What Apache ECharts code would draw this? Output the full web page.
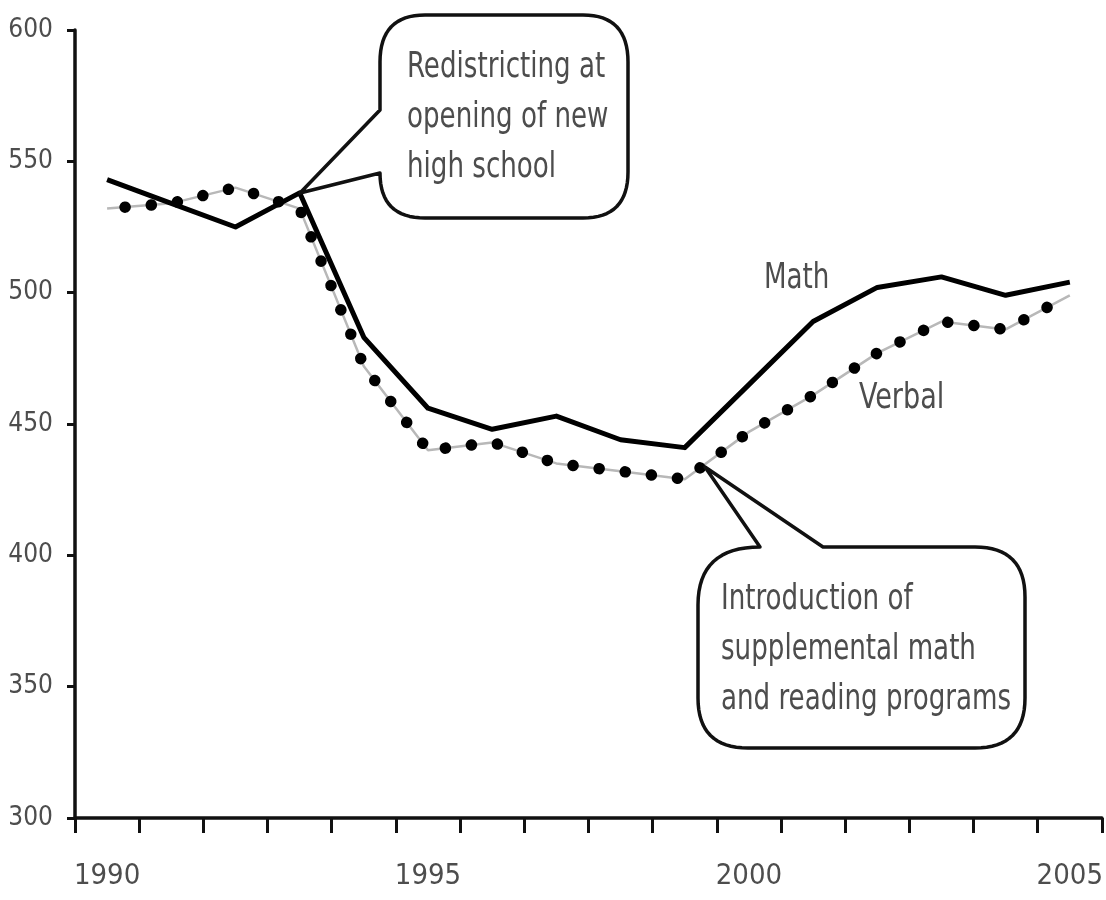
<!DOCTYPE html>
<html>
<head>
<meta charset="utf-8">
<script src="https://cdn.jsdelivr.net/npm/echarts@6/dist/echarts.min.js"></script>
<style>
html,body{margin:0;padding:0;background:#fff;}
#chart{width:1106px;height:900px;}
</style>
</head>
<body>
<div id="chart"></div>
<script>
const years = ['1990','1991','1992','1993','1994','1995','1996','1997','1998','1999','2000','2001','2002','2003','2004','2005'];
const mathScores = [543, 534, 525, 538, 483, 456, 448, 453, 444, 441, 465, 489, 502, 506, 499, 504];
const verbalScores = [532, 534, 540, 532, 472, 440, 443, 435, 432, 429, 447, 461, 477, 489, 486, 499];
const yTicks = [300, 350, 400, 450, 500, 550, 600];
const labelYears = ['1990','1995','2000','2005'];

const FONT = "'DejaVu Sans Condensed','Liberation Sans Narrow','DejaVu Sans',sans-serif";
const TXT = '#4d4d4d';
const SQUEEZE = 0.83;

// Build polygon points from a list of segments: ['L',x,y] or ['Q',cx,cy,x,y]
function calloutPoints(start, segs) {
  const pts = [start.slice()];
  let cur = start.slice();
  segs.forEach(function (s) {
    if (s[0] === 'L') { cur = [s[1], s[2]]; pts.push(cur); }
    else {
      const cx = s[1], cy = s[2], x = s[3], y = s[4];
      for (let i = 1; i <= 16; i++) {
        const t = i / 16, u = 1 - t;
        pts.push([u*u*cur[0] + 2*u*t*cx + t*t*x, u*u*cur[1] + 2*u*t*cy + t*t*y]);
      }
      cur = [x, y];
    }
  });
  return pts;
}

const callout1 = calloutPoints([425, 15], [
  ['L', 583, 15], ['Q', 628, 15, 628, 62], ['L', 628, 172], ['Q', 628, 218, 583, 218],
  ['L', 425, 218], ['Q', 380, 218, 380, 173], ['L', 300, 193], ['L', 380, 110],
  ['L', 380, 62], ['Q', 380, 15, 425, 15]
]);
const callout2 = calloutPoints([823, 547], [
  ['L', 975, 547], ['Q', 1025, 547, 1025, 597], ['L', 1025, 698], ['Q', 1025, 748, 975, 748],
  ['L', 748, 748], ['Q', 698, 748, 698, 698], ['L', 698, 605], ['Q', 698, 547, 760, 547],
  ['L', 705, 467]
]);

const chart = echarts.init(document.getElementById('chart'), null, {renderer:'canvas'});

const option = {
  animation: false,
  backgroundColor: '#fff',
  grid: { left: 75, right: 4, top: 30, bottom: 82, containLabel: false },
  xAxis: {
    type: 'category',
    data: years,
    boundaryGap: true,
    axisLine: { show: true, lineStyle: { color: '#111', width: 3.5 } },
    axisTick: { show: true, interval: 0, length: 15, lineStyle: { color: '#111', width: 3 } },
    axisLabel: {
      interval: function (idx, val) { return labelYears.indexOf(val) >= 0; },
      margin: 44, color: TXT, fontFamily: FONT, fontSize: 29
    },
    splitLine: { show: false }
  },
  yAxis: {
    type: 'value',
    min: yTicks[0], max: yTicks[yTicks.length - 1], interval: 50,
    axisLine: { show: true, lineStyle: { color: '#111', width: 3.5 } },
    axisTick: { show: true, length: 8, lineStyle: { color: '#111', width: 3 } },
    axisLabel: { margin: 22, color: TXT, fontFamily: FONT, fontSize: 26 },
    splitLine: { show: false }
  },
  series: [
    {
      name: 'Verbal base', type: 'line', data: verbalScores, symbol: 'none', z: 2,
      lineStyle: { color: '#b8b8b8', width: 2.5 }
    },
    {
      name: 'Verbal', type: 'line', data: verbalScores, symbol: 'none', z: 3,
      lineStyle: { color: '#000', width: 11.5, type: [0.1, 26.2], dashOffset: 8.3, cap: 'round' }
    },
    {
      name: 'Math', type: 'line', data: mathScores, symbol: 'none', z: 4,
      lineStyle: { color: '#000', width: 5, join: 'round' }
    }
  ],
  graphic: [
    {
      type: 'polygon', z: 10,
      shape: { points: callout1 },
      style: { fill: '#fff', stroke: '#111', lineWidth: 3.5, lineJoin: 'round' }
    },
    {
      type: 'text', z: 11, x: 407, y: 43, scaleX: SQUEEZE,
      style: { text: 'Redistricting at\nopening of new\nhigh school', font: '35px ' + FONT, fill: TXT, lineHeight: 50 }
    },
    {
      type: 'polygon', z: 10,
      shape: { points: callout2 },
      style: { fill: '#fff', stroke: '#111', lineWidth: 3.5, lineJoin: 'round' }
    },
    {
      type: 'text', z: 11, x: 721, y: 575, scaleX: SQUEEZE,
      style: { text: 'Introduction of\nsupplemental math\nand reading programs', font: '35px ' + FONT, fill: TXT, lineHeight: 50 }
    },
    {
      type: 'text', z: 11, x: 764, y: 261, scaleX: SQUEEZE,
      style: { text: 'Math', font: '35px ' + FONT, fill: TXT }
    },
    {
      type: 'text', z: 11, x: 859, y: 381, scaleX: 0.86,
      style: { text: 'Verbal', font: '35px ' + FONT, fill: TXT }
    }
  ]
};
chart.setOption(option);
</script>
</body>
</html>
